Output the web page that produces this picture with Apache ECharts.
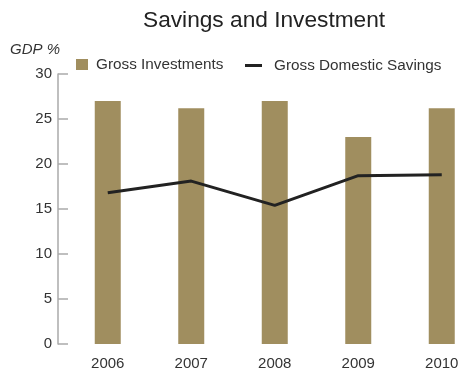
<!DOCTYPE html>
<html>
<head>
<meta charset="utf-8">
<script src="https://cdn.jsdelivr.net/npm/echarts@6/dist/echarts.min.js"></script>
<style>
  html, body { margin: 0; padding: 0; background: #fff; }
  #chart { width: 463px; height: 374px; }
</style>
</head>
<body>
<div id="chart"></div>
<script>
// Savings vs investment, share of GDP
const years = ['2006', '2007', '2008', '2009', '2010'];
const grossInvestments = [27.0, 26.2, 27.0, 23.0, 26.2];
const grossDomesticSavings = [16.8, 18.1, 15.4, 18.7, 18.8];
const yTicks = [0, 5, 10, 15, 20, 25, 30];

const FONT = '"Liberation Sans", Arial, sans-serif';
const chart = echarts.init(document.getElementById('chart'));

const legendText = { fontSize: 15.3, color: '#333', fontFamily: FONT };

chart.setOption({
  animation: false,
  backgroundColor: '#fff',
  textStyle: { fontFamily: FONT },
  title: {
    text: 'Savings and Investment',
    left: 138,
    top: 4,
    textStyle: { fontSize: 22.7, fontWeight: 'normal', color: '#222', fontFamily: FONT }
  },
  graphic: [{
    type: 'text',
    left: 10,
    top: 42,
    style: { text: 'GDP %', font: 'italic 15px ' + FONT, fill: '#333' }
  }],
  legend: [
    {
      left: 76,
      top: 57,
      padding: 0,
      itemWidth: 12,
      itemHeight: 11,
      textStyle: Object.assign({ padding: [0, 0, 0, 3] }, legendText),
      data: [{ name: 'Gross Investments', icon: 'rect' }]
    },
    {
      left: 245,
      top: 58,
      padding: 0,
      itemWidth: 17,
      itemHeight: 3,
      textStyle: Object.assign({ padding: [0, 0, 0, 7] }, legendText),
      data: [{ name: 'Gross Domestic Savings', icon: 'rect' }]
    }
  ],
  grid: { left: 66, width: 417.5, top: 74, bottom: 30, outerBoundsMode: 'none' },
  xAxis: {
    type: 'category',
    data: years,
    boundaryGap: true,
    axisLine: { show: false },
    axisTick: { show: false },
    axisLabel: { fontSize: 15, color: '#333', margin: 12, fontFamily: FONT }
  },
  yAxis: {
    type: 'value',
    min: yTicks[0],
    max: yTicks[yTicks.length - 1],
    interval: 5,
    offset: 8,
    splitLine: { show: false },
    axisLine: { show: true, lineStyle: { color: '#aaa', width: 1.5 } },
    axisTick: { show: true, inside: true, length: 10, lineStyle: { color: '#aaa', width: 1.5 } },
    axisLabel: { fontSize: 15, color: '#333', margin: 6, fontFamily: FONT }
  },
  series: [
    {
      name: 'Gross Investments',
      type: 'bar',
      data: grossInvestments,
      barWidth: 26,
      itemStyle: { color: '#a08e5f' }
    },
    {
      name: 'Gross Domestic Savings',
      type: 'line',
      data: grossDomesticSavings,
      symbol: 'none',
      lineStyle: { color: '#222', width: 3 },
      itemStyle: { color: '#222' }
    }
  ]
});
</script>
</body>
</html>
